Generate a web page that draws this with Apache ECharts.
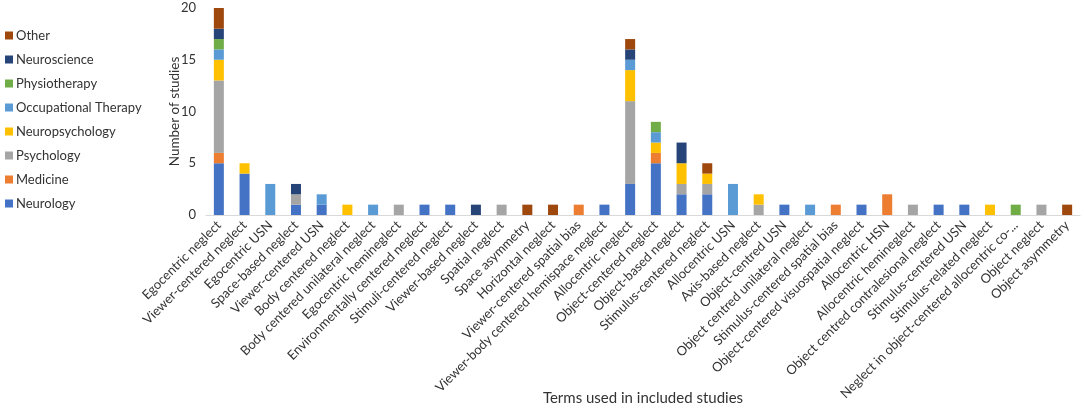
<!DOCTYPE html>
<html>
<head>
<meta charset="utf-8">
<script src="https://cdn.jsdelivr.net/npm/echarts@6/dist/echarts.min.js"></script>
<style>
  html, body { margin: 0; padding: 0; background: #fff; }
  #chart { width: 1084px; height: 409px; }
</style>
</head>
<body>
<div id="chart"></div>
<script>
// terms on the x axis
const terms = [
    'Egocentric neglect', 'Viewer-centered neglect', 'Egocentric USN', 'Space-based neglect',
    'Viewer-centered USN', 'Body centered neglect', 'Body centered unilateral neglect',
    'Egocentric hemineglect', 'Environmentally centered neglect', 'Stimuli-centered neglect',
    'Viewer-based neglect', 'Spatial neglect', 'Space asymmetry', 'Horizontal neglect',
    'Viewer-centered spatial bias', 'Viewer-body centered hemispace neglect', 'Allocentric neglect',
    'Object-centered neglect', 'Object-based neglect', 'Stimulus-centered neglect', 'Allocentric USN',
    'Axis-based neglect', 'Object-centred USN', 'Object centred unilateral neglect',
    'Stimulus-centered spatial bias', 'Object-centered visuospatial neglect', 'Allocentric HSN',
    'Allocentric hemineglect', 'Object centred contralesional neglect', 'Stimulus-centered USN',
    'Stimulus-related neglect', 'Neglect in object-centered allocentric co-...', 'Object neglect',
    'Object asymmetry'
];

// studies per discipline, one value per term
const neurology       = [5, 4, 0, 1, 1, 0, 0, 0, 1, 1, 0, 0, 0, 0, 0, 1, 3, 5, 2, 2, 0, 0, 1, 0, 0, 1, 0, 0, 1, 1, 0, 0, 0, 0];
const medicine        = [1, 0, 0, 0, 0, 0, 0, 0, 0, 0, 0, 0, 0, 0, 1, 0, 0, 1, 0, 0, 0, 0, 0, 0, 1, 0, 2, 0, 0, 0, 0, 0, 0, 0];
const psychology      = [7, 0, 0, 1, 0, 0, 0, 1, 0, 0, 0, 1, 0, 0, 0, 0, 8, 0, 1, 1, 0, 1, 0, 0, 0, 0, 0, 1, 0, 0, 0, 0, 1, 0];
const neuropsychology = [2, 1, 0, 0, 0, 1, 0, 0, 0, 0, 0, 0, 0, 0, 0, 0, 3, 1, 2, 1, 0, 1, 0, 0, 0, 0, 0, 0, 0, 0, 1, 0, 0, 0];
const occupational    = [1, 0, 3, 0, 1, 0, 1, 0, 0, 0, 0, 0, 0, 0, 0, 0, 1, 1, 0, 0, 3, 0, 0, 1, 0, 0, 0, 0, 0, 0, 0, 0, 0, 0];
const physiotherapy   = [1, 0, 0, 0, 0, 0, 0, 0, 0, 0, 0, 0, 0, 0, 0, 0, 0, 1, 0, 0, 0, 0, 0, 0, 0, 0, 0, 0, 0, 0, 0, 1, 0, 0];
const neuroscience    = [1, 0, 0, 1, 0, 0, 0, 0, 0, 0, 1, 0, 0, 0, 0, 0, 1, 0, 2, 0, 0, 0, 0, 0, 0, 0, 0, 0, 0, 0, 0, 0, 0, 0];
const other           = [2, 0, 0, 0, 0, 0, 0, 0, 0, 0, 0, 0, 1, 1, 0, 0, 1, 0, 0, 1, 0, 0, 0, 0, 0, 0, 0, 0, 0, 0, 0, 0, 0, 1];

const disciplines = [
    { name: 'Neurology', data: neurology, color: '#4472C4' },
    { name: 'Medicine', data: medicine, color: '#ED7D31' },
    { name: 'Psychology', data: psychology, color: '#A5A5A5' },
    { name: 'Neuropsychology', data: neuropsychology, color: '#FFC000' },
    { name: 'Occupational Therapy', data: occupational, color: '#5B9BD5' },
    { name: 'Physiotherapy', data: physiotherapy, color: '#70AD47' },
    { name: 'Neuroscience', data: neuroscience, color: '#264478' },
    { name: 'Other', data: other, color: '#9E480E' }
];

const font = 'Lato, "Open Sans", sans-serif';
const textColor = '#333333';

const chart = echarts.init(document.getElementById('chart'));

chart.setOption({
    animation: false,
    textStyle: { fontFamily: font },
    legend: {
        orient: 'vertical',
        left: 0,
        top: 24,
        itemWidth: 8,
        itemHeight: 8,
        itemGap: 11,
        icon: 'rect',
        // Excel lists the stack top-down
        data: disciplines.map(d => d.name).reverse(),
        textStyle: { fontSize: 13, color: textColor, fontFamily: font, padding: [0, 0, 0, -2] }
    },
    grid: {
        left: 206,
        right: 4,
        top: 8,
        bottom: 194,
        outerBoundsMode: 'none'
    },
    xAxis: {
        type: 'category',
        data: terms,
        name: 'Terms used in included studies',
        nameLocation: 'middle',
        nameGap: 176,
        nameMoveOverlap: false,
        nameTextStyle: { fontSize: 15, color: textColor, fontFamily: font },
        axisLine: { lineStyle: { color: '#d9d9d9' } },
        axisTick: { show: false },
        axisLabel: {
            interval: 0,
            rotate: 45,
            fontSize: 13,
            color: textColor,
            margin: 8
        }
    },
    yAxis: {
        type: 'value',
        min: 0,
        max: 20,
        interval: 5,
        name: 'Number of studies',
        nameLocation: 'middle',
        nameGap: 24,
        nameMoveOverlap: false,
        nameTextStyle: { fontSize: 13.5, color: textColor, fontFamily: font },
        axisLine: { show: false },
        axisTick: { show: false },
        splitLine: { show: false },
        axisLabel: { fontSize: 13, color: textColor, margin: 10 }
    },
    series: disciplines.map(d => ({
        name: d.name,
        type: 'bar',
        stack: 'total',
        barWidth: 10,
        itemStyle: { color: d.color },
        data: d.data
    }))
});
</script>
</body>
</html>
